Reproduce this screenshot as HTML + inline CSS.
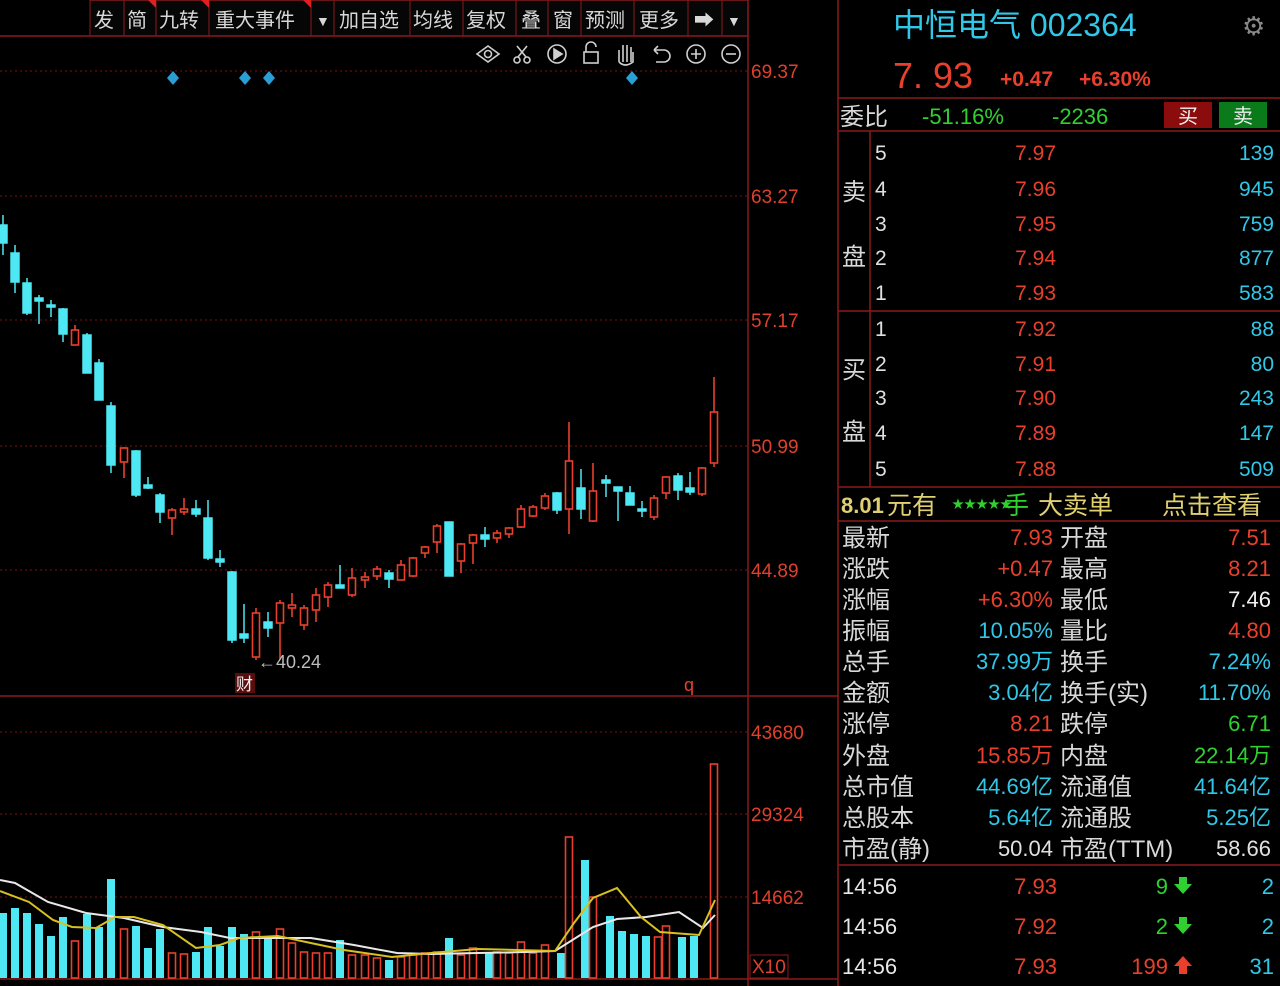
<!DOCTYPE html>
<html><head><meta charset="utf-8"><style>
html,body{margin:0;padding:0;background:#000;width:1280px;height:986px;overflow:hidden}
svg{display:block}
text{font-family:"Liberation Sans","Noto Sans CJK SC",sans-serif}
</style></head><body>
<svg width="1280" height="986" viewBox="0 0 1280 986" xmlns="http://www.w3.org/2000/svg">
<rect width="1280" height="986" fill="#000"/>
<!-- toolbar -->
<rect x="90" y="0" width="658" height="36" fill="#060606"/>
<line x1="0" y1="36" x2="748" y2="36" stroke="#8a1a1a" stroke-width="1.5"/>
<line x1="90" y1="0" x2="748" y2="0" stroke="#8a1a1a" stroke-width="1.5"/>
<g stroke="#8a1a1a" stroke-width="1">
<line x1="90" y1="0" x2="90" y2="36"/><line x1="124" y1="0" x2="124" y2="36"/><line x1="156" y1="0" x2="156" y2="36"/><line x1="209" y1="0" x2="209" y2="36"/><line x1="311" y1="0" x2="311" y2="36"/><line x1="334" y1="0" x2="334" y2="36"/><line x1="410" y1="0" x2="410" y2="36"/><line x1="463" y1="0" x2="463" y2="36"/><line x1="516" y1="0" x2="516" y2="36"/><line x1="548" y1="0" x2="548" y2="36"/><line x1="581" y1="0" x2="581" y2="36"/><line x1="634" y1="0" x2="634" y2="36"/><line x1="688" y1="0" x2="688" y2="36"/><line x1="722" y1="0" x2="722" y2="36"/>
</g>
<g fill="#d8d8d8" font-size="20">
<text x="94" y="27">发</text><text x="127" y="27">简</text><text x="159" y="27">九转</text><text x="215" y="27">重大事件</text><text x="316" y="26" font-size="14">▼</text><text x="339" y="27">加自选</text><text x="413" y="27">均线</text><text x="466" y="27">复权</text><text x="521" y="27">叠</text><text x="553" y="27">窗</text><text x="585" y="27">预测</text><text x="639" y="27">更多</text><text x="694" y="27">➡</text><text x="727" y="26" font-size="14">▼</text>
</g>
<g fill="#e02020"><polygon points="148,0 156,0 156,8"/><polygon points="201,0 209,0 209,8"/><polygon points="303,0 311,0 311,8"/></g>
<!-- icons -->
<g fill="none" stroke="#cfcfcf" stroke-width="1.6">
<path d="M477,54 L488,46 L499,54 L488,62 Z"/><circle cx="488" cy="54" r="3.5"/>
<circle cx="517" cy="60" r="3"/><circle cx="527" cy="60" r="3"/><path d="M518,57 L527,46 M526,57 L517,46"/>
<circle cx="557" cy="54" r="9"/><path d="M554,49 L562,54 L554,59 Z" fill="#cfcfcf"/>
<rect x="584" y="52" width="14" height="11"/><path d="M586,52 V47 a5,5 0 0 1 10,0"/>
<path d="M619,62 V50 M623,62 V45 M627,62 V45 M631,62 V47 M619,62 q6,6 14,0 V52"/>
<path d="M654,50 h10 a6,6 0 0 1 0,12 h-8 M654,50 l4,-4 M654,50 l4,4"/>
<circle cx="696" cy="54" r="9"/><path d="M691,54 h10 M696,49 v10"/>
<circle cx="731" cy="54" r="9"/><path d="M726,54 h10"/>
</g>
<!-- diamonds -->
<g fill="#2a9fd6"><polygon points="173,71 179,78 173,85 167,78"/><polygon points="245,71 251,78 245,85 239,78"/><polygon points="269,71 275,78 269,85 263,78"/><polygon points="632,71 638,78 632,85 626,78"/></g>
<!-- grid -->
<g stroke="#7a1515" stroke-width="1" stroke-dasharray="2,3">
<line x1="0" y1="71" x2="748" y2="71"/><line x1="0" y1="196" x2="748" y2="196"/><line x1="0" y1="320" x2="748" y2="320"/><line x1="0" y1="446" x2="748" y2="446"/><line x1="0" y1="570" x2="748" y2="570"/>
<line x1="0" y1="732" x2="748" y2="732"/><line x1="0" y1="814" x2="748" y2="814"/><line x1="0" y1="897" x2="748" y2="897"/>
</g>
<line x1="0" y1="696" x2="838" y2="696" stroke="#8a1a1a" stroke-width="1.5"/>
<line x1="0" y1="979" x2="838" y2="979" stroke="#8a1a1a" stroke-width="1.5"/>
<line x1="748" y1="0" x2="748" y2="986" stroke="#8a1a1a" stroke-width="1.5"/>
<line x1="838" y1="0" x2="838" y2="986" stroke="#8a1a1a" stroke-width="1.5"/>
<g fill="#e0402c" font-size="19">
<text x="751" y="78">69.37</text><text x="751" y="203">63.27</text><text x="751" y="327">57.17</text><text x="751" y="453">50.99</text><text x="751" y="577">44.89</text>
<text x="751" y="739">43680</text><text x="751" y="821">29324</text><text x="751" y="904">14662</text><text x="752" y="973">X10</text>
</g>
<rect x="750" y="955" width="38" height="23" fill="none" stroke="#8a1a1a"/>
<!-- candles -->
<g id="cy" fill="#4de8f4" stroke="#4de8f4" stroke-width="1.5">
<line x1="3" y1="215" x2="3" y2="255"/><rect x="-1" y="225" width="8" height="18"/>
<line x1="15" y1="245" x2="15" y2="293"/><rect x="11" y="253" width="8" height="29"/>
<line x1="27" y1="278" x2="27" y2="315"/><rect x="23" y="283" width="8" height="30"/>
<line x1="39" y1="295" x2="39" y2="324"/><rect x="35" y="298" width="8" height="3"/>
<line x1="51" y1="300" x2="51" y2="317"/><rect x="47" y="305" width="8" height="2"/>
<line x1="63" y1="308" x2="63" y2="342"/><rect x="59" y="309" width="8" height="25"/>
<line x1="87" y1="333" x2="87" y2="373"/><rect x="83" y="335" width="8" height="38"/>
<line x1="99" y1="359" x2="99" y2="400"/><rect x="95" y="363" width="8" height="37"/>
<line x1="111" y1="402" x2="111" y2="473"/><rect x="107" y="406" width="8" height="59"/>
<line x1="136" y1="450" x2="136" y2="497"/><rect x="132" y="451" width="8" height="44"/>
<line x1="148" y1="477" x2="148" y2="489"/><rect x="144" y="485" width="8" height="3"/>
<line x1="160" y1="493" x2="160" y2="523"/><rect x="156" y="495" width="8" height="17"/>
<line x1="196" y1="500" x2="196" y2="517"/><rect x="192" y="509" width="8" height="5"/>
<line x1="208" y1="500" x2="208" y2="560"/><rect x="204" y="518" width="8" height="40"/>
<line x1="220" y1="550" x2="220" y2="567"/><rect x="216" y="559" width="8" height="3"/>
<line x1="232" y1="571" x2="232" y2="643"/><rect x="228" y="572" width="8" height="68"/>
<line x1="244" y1="604" x2="244" y2="643"/><rect x="240" y="634" width="8" height="4"/>
<line x1="268" y1="612" x2="268" y2="637"/><rect x="264" y="622" width="8" height="6"/>
<line x1="340" y1="565" x2="340" y2="588"/><rect x="336" y="585" width="8" height="3"/>
<line x1="389" y1="570" x2="389" y2="588"/><rect x="385" y="573" width="8" height="6"/>
<line x1="449" y1="522" x2="449" y2="576"/><rect x="445" y="522" width="8" height="54"/>
<line x1="485" y1="527" x2="485" y2="547"/><rect x="481" y="535" width="8" height="4"/>
<line x1="557" y1="492" x2="557" y2="514"/><rect x="553" y="493" width="8" height="17"/>
<line x1="581" y1="469" x2="581" y2="519"/><rect x="577" y="488" width="8" height="21"/>
<line x1="606" y1="475" x2="606" y2="497"/><rect x="602" y="480" width="8" height="3"/>
<line x1="618" y1="487" x2="618" y2="521"/><rect x="614" y="487" width="8" height="4"/>
<line x1="630" y1="486" x2="630" y2="505"/><rect x="626" y="493" width="8" height="12"/>
<line x1="642" y1="501" x2="642" y2="517"/><rect x="638" y="509" width="8" height="2"/>
<line x1="678" y1="473" x2="678" y2="500"/><rect x="674" y="476" width="8" height="14"/>
<line x1="690" y1="472" x2="690" y2="495"/><rect x="686" y="488" width="8" height="4"/>
</g>
<g fill="#000" stroke="#e8402c" stroke-width="1.6">
<line x1="75" y1="325" x2="75" y2="345"/><rect x="71.5" y="330" width="7" height="15"/>
<line x1="124" y1="447" x2="124" y2="478"/><rect x="120.5" y="448" width="7" height="14"/>
<line x1="172" y1="508" x2="172" y2="535"/><rect x="168.5" y="510" width="7" height="8"/>
<line x1="184" y1="498" x2="184" y2="515"/><rect x="180.5" y="509" width="7" height="3"/>
<line x1="256" y1="608" x2="256" y2="660"/><rect x="252.5" y="613" width="7" height="44"/>
<line x1="280" y1="600" x2="280" y2="660"/><rect x="276.5" y="603" width="7" height="20"/>
<line x1="292" y1="593" x2="292" y2="617"/><rect x="288.5" y="605" width="7" height="3"/>
<line x1="304" y1="605" x2="304" y2="630"/><rect x="300.5" y="608" width="7" height="17"/>
<line x1="316" y1="588" x2="316" y2="622"/><rect x="312.5" y="595" width="7" height="15"/>
<line x1="328" y1="582" x2="328" y2="607"/><rect x="324.5" y="585" width="7" height="12"/>
<line x1="352" y1="568" x2="352" y2="597"/><rect x="348.5" y="578" width="7" height="17"/>
<line x1="365" y1="572" x2="365" y2="588"/><rect x="361.5" y="577" width="7" height="3"/>
<line x1="377" y1="566" x2="377" y2="580"/><rect x="373.5" y="569" width="7" height="7"/>
<line x1="401" y1="560" x2="401" y2="580"/><rect x="397.5" y="565" width="7" height="15"/>
<line x1="413" y1="557" x2="413" y2="577"/><rect x="409.5" y="558" width="7" height="18"/>
<line x1="425" y1="546" x2="425" y2="558"/><rect x="421.5" y="547" width="7" height="6"/>
<line x1="437" y1="524" x2="437" y2="553"/><rect x="433.5" y="526" width="7" height="16"/>
<line x1="461" y1="543" x2="461" y2="573"/><rect x="457.5" y="544" width="7" height="17"/>
<line x1="473" y1="534" x2="473" y2="564"/><rect x="469.5" y="535" width="7" height="8"/>
<line x1="497" y1="530" x2="497" y2="543"/><rect x="493.5" y="533" width="7" height="5"/>
<line x1="509" y1="527" x2="509" y2="538"/><rect x="505.5" y="528" width="7" height="6"/>
<line x1="521" y1="505" x2="521" y2="528"/><rect x="517.5" y="509" width="7" height="18"/>
<line x1="533" y1="505" x2="533" y2="517"/><rect x="529.5" y="507" width="7" height="9"/>
<line x1="545" y1="493" x2="545" y2="510"/><rect x="541.5" y="496" width="7" height="12"/>
<line x1="569" y1="422" x2="569" y2="534"/><rect x="565.5" y="461" width="7" height="48"/>
<line x1="593" y1="463" x2="593" y2="522"/><rect x="589.5" y="491" width="7" height="30"/>
<line x1="654" y1="495" x2="654" y2="520"/><rect x="650.5" y="498" width="7" height="19"/>
<line x1="666" y1="476" x2="666" y2="499"/><rect x="662.5" y="477" width="7" height="16"/>
<line x1="702" y1="467" x2="702" y2="496"/><rect x="698.5" y="468" width="7" height="26"/>
<line x1="714" y1="377" x2="714" y2="467"/><rect x="710.5" y="412" width="7" height="51"/>
</g>
<text x="258" y="668" fill="#bdbdbd" font-size="18">←40.24</text>
<rect x="235" y="673" width="20" height="20" fill="#5a0d0d"/>
<text x="236" y="690" fill="#f0f0f0" font-size="17">财</text>
<text x="684" y="691" fill="#e8402c" font-size="18">q</text>
<!-- volume -->
<g fill="#4de8f4">
<rect x="-1" y="913" width="8" height="65"/><rect x="11" y="908" width="8" height="70"/><rect x="23" y="913" width="8" height="65"/><rect x="35" y="924" width="8" height="54"/><rect x="47" y="936" width="8" height="42"/><rect x="59" y="917" width="8" height="61"/><rect x="83" y="914" width="8" height="64"/><rect x="95" y="927" width="8" height="51"/><rect x="107" y="879" width="8" height="99"/><rect x="132" y="926" width="8" height="52"/><rect x="144" y="948" width="8" height="30"/><rect x="156" y="929" width="8" height="49"/><rect x="192" y="952" width="8" height="26"/><rect x="204" y="927" width="8" height="51"/><rect x="216" y="946" width="8" height="32"/><rect x="228" y="927" width="8" height="51"/><rect x="240" y="934" width="8" height="44"/><rect x="264" y="937" width="8" height="41"/><rect x="336" y="940" width="8" height="38"/><rect x="385" y="960" width="8" height="18"/><rect x="445" y="938" width="8" height="40"/><rect x="485" y="953" width="8" height="25"/><rect x="557" y="953" width="8" height="25"/><rect x="581" y="860" width="8" height="118"/><rect x="606" y="916" width="8" height="62"/><rect x="618" y="931" width="8" height="47"/><rect x="630" y="934" width="8" height="44"/><rect x="642" y="936" width="8" height="42"/><rect x="678" y="937" width="8" height="41"/><rect x="690" y="936" width="8" height="42"/>
</g>
<g fill="none" stroke="#e8402c" stroke-width="1.6">
<rect x="71.5" y="941" width="7" height="37"/><rect x="120.5" y="929" width="7" height="49"/><rect x="168.5" y="953" width="7" height="25"/><rect x="180.5" y="954" width="7" height="24"/><rect x="252.5" y="932" width="7" height="46"/><rect x="276.5" y="929" width="7" height="49"/><rect x="288.5" y="943" width="7" height="35"/><rect x="300.5" y="952" width="7" height="26"/><rect x="312.5" y="953" width="7" height="25"/><rect x="324.5" y="953" width="7" height="25"/><rect x="348.5" y="955" width="7" height="23"/><rect x="361.5" y="955" width="7" height="23"/><rect x="373.5" y="958" width="7" height="20"/><rect x="397.5" y="957" width="7" height="21"/><rect x="409.5" y="955" width="7" height="23"/><rect x="421.5" y="953" width="7" height="25"/><rect x="433.5" y="952" width="7" height="26"/><rect x="457.5" y="955" width="7" height="23"/><rect x="469.5" y="948" width="7" height="30"/><rect x="493.5" y="952" width="7" height="26"/><rect x="505.5" y="953" width="7" height="25"/><rect x="517.5" y="942" width="7" height="36"/><rect x="529.5" y="953" width="7" height="25"/><rect x="541.5" y="945" width="7" height="33"/><rect x="565.5" y="837" width="7" height="141"/><rect x="589.5" y="897" width="7" height="81"/><rect x="654.5" y="937" width="7" height="41"/><rect x="662.5" y="926" width="7" height="52"/><rect x="710.5" y="764" width="7" height="214"/>
</g>
<polyline fill="none" stroke="#e8e8e8" stroke-width="2" points="0,880 15,883 48,902 86,913 124,918 163,927 201,932 230,938 268,938 311,938 354,945 397,953 431,954 478,953 526,952 555,951 593,927 617,919 646,917 679,912 703,928 715,915"/>
<polyline fill="none" stroke="#d8c020" stroke-width="2" points="0,891 29,902 53,920 72,927 96,928 115,917 134,917 163,925 196,948 220,945 239,938 278,936 306,942 344,950 392,957 431,953 478,949 555,951 574,923 593,898 617,888 641,917 660,932 699,935 715,900"/>
<!-- right panel -->
<text x="893" y="36" fill="#2fc8e8" font-size="32" font-family="Liberation Serif,Noto Serif CJK SC,serif">中恒电气 002364</text>
<text x="1242" y="35" fill="#888" font-size="26">⚙</text>
<text x="893" y="88" fill="#e8402c" font-size="36" font-family="Liberation Serif,serif">7. 93</text>
<text x="1000" y="86" fill="#e8402c" font-size="21" font-weight="bold">+0.47</text>
<text x="1079" y="86" fill="#e8402c" font-size="21" font-weight="bold">+6.30%</text>
<g stroke="#8a1a1a" stroke-width="1.5">
<line x1="838" y1="98" x2="1280" y2="98"/><line x1="838" y1="131" x2="1280" y2="131"/><line x1="838" y1="311" x2="1280" y2="311"/><line x1="838" y1="487" x2="1280" y2="487"/><line x1="838" y1="521" x2="1280" y2="521"/><line x1="838" y1="865" x2="1280" y2="865"/><line x1="870" y1="131" x2="870" y2="487"/>
</g>
<text x="840" y="125" fill="#d8d8d8" font-size="24">委比</text>
<text x="922" y="124" fill="#30d030" font-size="22">-51.16%</text>
<text x="1052" y="124" fill="#30d030" font-size="22">-2236</text>
<rect x="1164" y="102" width="48" height="26" fill="#8a0c0c"/><text x="1178" y="123" fill="#f0f0f0" font-size="20">买</text>
<rect x="1219" y="102" width="48" height="26" fill="#0b7a1a"/><text x="1233" y="123" fill="#f0f0f0" font-size="20">卖</text>
<g fill="#d8d8d8" font-size="24"><text x="842" y="200">卖</text><text x="842" y="265">盘</text><text x="842" y="378">买</text><text x="842" y="440">盘</text></g>
<g fill="#e0e0e0" font-size="21">
<text x="875" y="160">5</text><text x="875" y="196">4</text><text x="875" y="231">3</text><text x="875" y="265">2</text><text x="875" y="300">1</text>
<text x="875" y="336">1</text><text x="875" y="371">2</text><text x="875" y="405">3</text><text x="875" y="440">4</text><text x="875" y="476">5</text>
</g>
<g fill="#e8402c" font-size="21" text-anchor="end">
<text x="1056" y="160">7.97</text><text x="1056" y="196">7.96</text><text x="1056" y="231">7.95</text><text x="1056" y="265">7.94</text><text x="1056" y="300">7.93</text>
<text x="1056" y="336">7.92</text><text x="1056" y="371">7.91</text><text x="1056" y="405">7.90</text><text x="1056" y="440">7.89</text><text x="1056" y="476">7.88</text>
</g>
<g fill="#2fc8e8" font-size="21" text-anchor="end">
<text x="1274" y="160">139</text><text x="1274" y="196">945</text><text x="1274" y="231">759</text><text x="1274" y="265">877</text><text x="1274" y="300">583</text>
<text x="1274" y="336">88</text><text x="1274" y="371">80</text><text x="1274" y="405">243</text><text x="1274" y="440">147</text><text x="1274" y="476">509</text>
</g>
<text x="841" y="513" fill="#e0d070" font-size="22" font-weight="bold">8.01</text>
<text x="887" y="514" fill="#e0d070" font-size="25">元有</text>
<text x="952" y="508" fill="#30d030" font-size="12">★★★★★</text>
<text x="1004" y="514" fill="#30d030" font-size="25">手</text>
<text x="1038" y="514" fill="#e0d070" font-size="25">大卖单</text>
<text x="1162" y="514" fill="#e0d070" font-size="25">点击查看</text>
<g fill="#d8d8d8" font-size="24">
<text x="842" y="546">最新</text><text x="842" y="577">涨跌</text><text x="842" y="608">涨幅</text><text x="842" y="639">振幅</text><text x="842" y="670">总手</text><text x="842" y="701">金额</text><text x="842" y="732">涨停</text><text x="842" y="764">外盘</text><text x="842" y="795">总市值</text><text x="842" y="826">总股本</text><text x="842" y="857">市盈(静)</text>
<text x="1060" y="546">开盘</text><text x="1060" y="577">最高</text><text x="1060" y="608">最低</text><text x="1060" y="639">量比</text><text x="1060" y="670">换手</text><text x="1060" y="701">换手(实)</text><text x="1060" y="732">跌停</text><text x="1060" y="764">内盘</text><text x="1060" y="795">流通值</text><text x="1060" y="826">流通股</text><text x="1060" y="857">市盈(TTM)</text>
</g>
<g font-size="22" text-anchor="end">
<text x="1053" y="545" fill="#e8402c">7.93</text><text x="1053" y="576" fill="#e8402c">+0.47</text><text x="1053" y="607" fill="#e8402c">+6.30%</text><text x="1053" y="638" fill="#2fc8e8">10.05%</text><text x="1053" y="669" fill="#2fc8e8">37.99万</text><text x="1053" y="700" fill="#2fc8e8">3.04亿</text><text x="1053" y="731" fill="#e8402c">8.21</text><text x="1053" y="763" fill="#e8402c">15.85万</text><text x="1053" y="794" fill="#2fc8e8">44.69亿</text><text x="1053" y="825" fill="#2fc8e8">5.64亿</text><text x="1053" y="856" fill="#e0e0e0">50.04</text>
<text x="1271" y="545" fill="#e8402c">7.51</text><text x="1271" y="576" fill="#e8402c">8.21</text><text x="1271" y="607" fill="#f0f0f0">7.46</text><text x="1271" y="638" fill="#e8402c">4.80</text><text x="1271" y="669" fill="#2fc8e8">7.24%</text><text x="1271" y="700" fill="#2fc8e8">11.70%</text><text x="1271" y="731" fill="#30d030">6.71</text><text x="1271" y="763" fill="#30d030">22.14万</text><text x="1271" y="794" fill="#2fc8e8">41.64亿</text><text x="1271" y="825" fill="#2fc8e8">5.25亿</text><text x="1271" y="856" fill="#e0e0e0">58.66</text>
</g>
<g font-size="22">
<text x="842" y="894" fill="#e8e8e8">14:56</text><text x="842" y="934" fill="#e8e8e8">14:56</text><text x="842" y="974" fill="#e8e8e8">14:56</text>
<text x="1057" y="894" fill="#e8402c" text-anchor="end">7.93</text><text x="1057" y="934" fill="#e8402c" text-anchor="end">7.92</text><text x="1057" y="974" fill="#e8402c" text-anchor="end">7.93</text>
<text x="1168" y="894" fill="#30d030" text-anchor="end">9</text><text x="1168" y="934" fill="#30d030" text-anchor="end">2</text><text x="1168" y="974" fill="#e8402c" text-anchor="end">199</text>
<text x="1274" y="894" fill="#2fc8e8" text-anchor="end">2</text><text x="1274" y="934" fill="#2fc8e8" text-anchor="end">2</text><text x="1274" y="974" fill="#2fc8e8" text-anchor="end">31</text>
</g>
<g fill="#30d030"><polygon points="1179,877 1187,877 1187,884 1192,884 1183,894 1174,884 1179,884"/><polygon points="1179,917 1187,917 1187,924 1192,924 1183,934 1174,924 1179,924"/></g>
<polygon fill="#e8402c" points="1183,956 1192,966 1187,966 1187,974 1179,974 1179,966 1174,966"/>
</svg>
</body></html>
